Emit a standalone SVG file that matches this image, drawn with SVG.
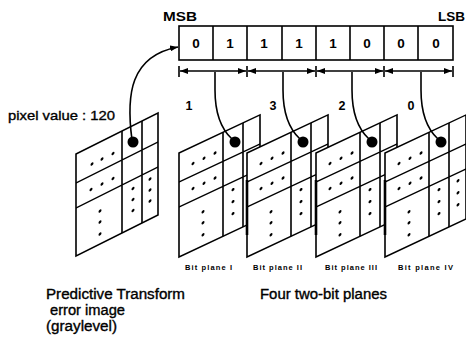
<svg xmlns="http://www.w3.org/2000/svg" width="466" height="341" viewBox="0 0 466 341">
<style>
.ln{fill:none;stroke:#000;stroke-width:1.6}
.pl{fill:#fff;stroke:#000;stroke-width:1.6}
.d{fill:#000}
.t{font-family:"Liberation Sans",Arial,sans-serif;fill:#000}
.b{font-weight:bold}
.h{stroke:#000;stroke-width:0.35}
</style>
<defs>
<marker id="ah" viewBox="0 0 8 6" refX="8" refY="3" markerWidth="8" markerHeight="6" markerUnits="userSpaceOnUse" orient="auto-start-reverse">
<path d="M0,0 L8,3 L0,6 z" fill="#000"/>
</marker>
<g id="grid">
<rect class="pl" x="0" y="0" width="81" height="104"/>
<path class="ln" d="M44,0 V104 M64,0 V104 M0,29 H81 M0,54 H81"/>
<g class="d">
<circle cx="14" cy="17" r="1.5"/><circle cx="25" cy="17" r="1.5"/><circle cx="36" cy="17" r="1.5"/>
<circle cx="14" cy="42" r="1.5"/><circle cx="25" cy="42" r="1.5"/><circle cx="36" cy="42" r="1.5"/>
<circle cx="24" cy="70" r="1.5"/><circle cx="24" cy="81" r="1.5"/><circle cx="24" cy="93" r="1.5"/>
<circle cx="54" cy="62" r="1.5"/><circle cx="54" cy="74" r="1.5"/><circle cx="54" cy="86" r="1.5"/>
<circle cx="73" cy="62" r="1.5"/><circle cx="73" cy="74" r="1.5"/><circle cx="73" cy="86" r="1.5"/>
</g>
</g>
</defs>
<rect width="466" height="341" fill="#fff"/>

<g id="register">
<rect class="ln" x="179" y="26" width="274" height="34"/>
<path class="ln" d="M213,26 V60 M247,26 V60 M282,26 V60 M316,26 V60 M350,26 V60 M384,26 V60 M418,26 V60"/>
<g class="t b" font-size="13.5" text-anchor="middle">
<text x="196" y="47.5">0</text><text x="230" y="47.5">1</text><text x="264" y="47.5">1</text><text x="299" y="47.5">1</text>
<text x="333" y="47.5">1</text><text x="367" y="47.5">0</text><text x="401" y="47.5">0</text><text x="436" y="47.5">0</text>
</g>
<text class="t b" x="163" y="21" font-size="12" textLength="34" lengthAdjust="spacingAndGlyphs">MSB</text>
<text class="t b" x="438" y="21" font-size="12" textLength="27" lengthAdjust="spacingAndGlyphs">LSB</text>
</g>

<g id="source-image">
<g transform="matrix(1,-0.5,0,1,76,154)">
<rect class="pl" x="0" y="0" width="82" height="102"/>
<path class="ln" d="M46,0 V102 M66,0 V102 M0,29 H82 M0,54 H82"/>
<g class="d">
<circle cx="16" cy="18" r="1.5"/><circle cx="26" cy="18" r="1.5"/><circle cx="37" cy="18" r="1.5"/>
<circle cx="15" cy="43" r="1.5"/><circle cx="26" cy="43" r="1.5"/><circle cx="37" cy="43" r="1.5"/>
<circle cx="24" cy="69" r="1.5"/><circle cx="24" cy="80" r="1.5"/><circle cx="24" cy="92" r="1.5"/>
<circle cx="57" cy="63" r="1.5"/><circle cx="57" cy="74" r="1.5"/><circle cx="57" cy="85" r="1.5"/>
<circle cx="74" cy="62" r="1.5"/><circle cx="74" cy="73" r="1.5"/><circle cx="74" cy="84" r="1.5"/>
</g>
</g>
<circle class="d" cx="133" cy="142" r="5.5"/>
<text class="t h" x="8" y="120" font-size="13.5" textLength="107" lengthAdjust="spacingAndGlyphs">pixel value : 120</text>
</g>

<g id="plane1">
<use href="#grid" transform="matrix(1,-0.47,0,1,179,153)"/>
<circle class="d" cx="235" cy="142" r="5.5"/>
<text class="t b" x="189" y="110" font-size="12.5" text-anchor="middle">1</text>
<text class="t b" x="185" y="270" font-size="7.5" textLength="47">Bit plane  I</text>
</g>
<g id="plane2">
<use href="#grid" transform="matrix(1,-0.47,0,1,247,153)"/>
<path d="M247,180 V235" stroke="#000" stroke-width="2.6"/>
<circle class="d" cx="303" cy="142" r="5.5"/>
<text class="t b" x="273" y="110" font-size="12.5" text-anchor="middle">3</text>
<text class="t b" x="253" y="270" font-size="7.5" textLength="49">Bit plane II</text>
</g>
<g id="plane3">
<use href="#grid" transform="matrix(1,-0.47,0,1,316,153)"/>
<path d="M316,180 V235" stroke="#000" stroke-width="2.6"/>
<circle class="d" cx="372" cy="142" r="5.5"/>
<text class="t b" x="342" y="110" font-size="12.5" text-anchor="middle">2</text>
<text class="t b" x="325" y="270" font-size="7.5" textLength="52">Bit plane III</text>
</g>
<g id="plane4">
<use href="#grid" transform="matrix(1,-0.47,0,1,385,153)"/>
<path d="M385,180 V235" stroke="#000" stroke-width="2.6"/>
<circle class="d" cx="441" cy="142" r="5.5"/>
<text class="t b" x="411" y="110" font-size="12.5" text-anchor="middle">0</text>
<text class="t b" x="398" y="270" font-size="7.5" textLength="55">Bit plane  IV</text>
</g>

<g id="captions" class="t h" font-size="14">
<text x="46" y="299" textLength="139" lengthAdjust="spacingAndGlyphs">Predictive Transform</text>
<text x="50" y="315" textLength="75" lengthAdjust="spacingAndGlyphs">error image</text>
<text x="46" y="331" textLength="71" lengthAdjust="spacingAndGlyphs">(graylevel)</text>
<text x="260" y="299" textLength="127" lengthAdjust="spacingAndGlyphs">Four two-bit planes</text>
</g>

<g id="connectors">
<path class="ln" d="M132,140 C126,95 130,56 178,47" marker-end="url(#ah)"/>
<path class="ln" d="M179,66 V77 M247,66 V77 M316,66 V77 M384,66 V77 M453,66 V77"/>
<path class="ln" d="M180,71 H246" marker-start="url(#ah)" marker-end="url(#ah)"/>
<path class="ln" d="M248,71 H315" marker-start="url(#ah)" marker-end="url(#ah)"/>
<path class="ln" d="M317,71 H383" marker-start="url(#ah)" marker-end="url(#ah)"/>
<path class="ln" d="M385,71 H452" marker-start="url(#ah)" marker-end="url(#ah)"/>
<path class="ln" d="M215,72 V90 C215,112 220,128 232,139"/>
<path class="ln" d="M283,72 V90 C283,112 288,128 300,139"/>
<path class="ln" d="M352,72 V90 C352,112 357,128 369,139"/>
<path class="ln" d="M421,72 V90 C421,112 426,128 438,139"/>
</g>
</svg>
